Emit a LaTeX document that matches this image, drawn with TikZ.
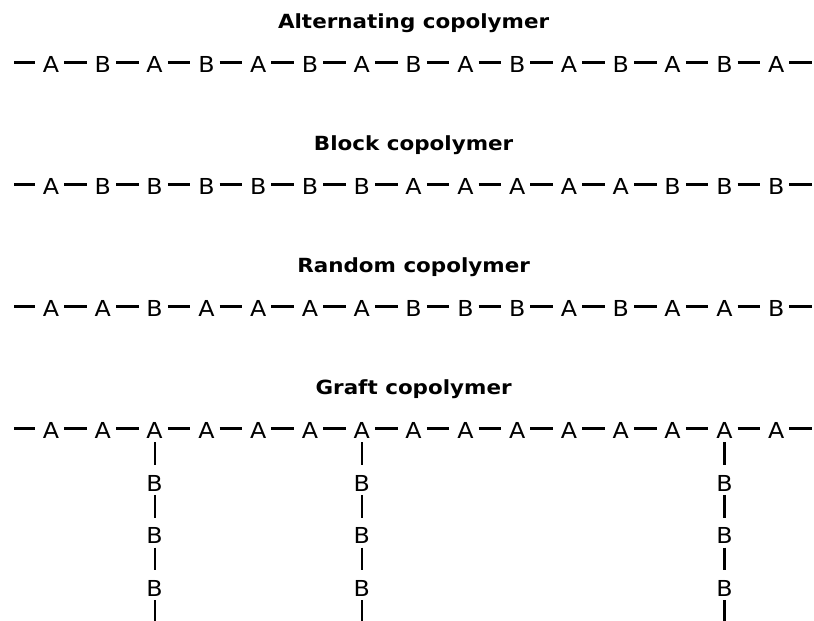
\documentclass[tikz,border=0pt]{standalone}
\usepackage{fontspec}
\setmainfont{DejaVu Sans}[FakeStretch=1.1]
\newfontfamily\unitfont{DejaVu Sans}[FakeStretch=1.08]
\begin{document}
\begin{tikzpicture}[x=1pt, y=-1pt,
  mono/.style={font=\unitfont\fontsize{22}{24}\selectfont, inner sep=0pt,
    minimum width=26pt, text height=20pt, text depth=0pt, anchor=base},
  bond/.style={line width=2.2pt, shorten >=2.8pt},
  vbond/.style={line width=2.2pt, shorten <=3.5pt, shorten >=6.2pt},
  heading/.style={font=\fontsize{19.5}{22}\selectfont\bfseries, anchor=base}]
\useasboundingbox (0,0) rectangle (814,621);

% headings
\node[heading] (t0) at (413.6, 28) {Alternating copolymer};
\node[heading] (t1) at (413.6, 150) {Block copolymer};
\node[heading] (t2) at (413.6, 272) {Random copolymer};
\node[heading] (t3) at (413.6, 394) {Graft copolymer};

% the four chains: monomers, bonds between them and the open chain ends
\foreach \seq [count=\r from 0] in {
  {A,B,A,B,A,B,A,B,A,B,A,B,A,B,A},
  {A,B,B,B,B,B,B,A,A,A,A,A,B,B,B},
  {A,A,B,A,A,A,A,B,B,B,A,B,A,A,B},
  {A,A,A,A,A,A,A,A,A,A,A,A,A,A,A}} {
  \pgfmathsetmacro{\yb}{72.5+122*\r}
  \foreach \m [count=\i from 0] in \seq {
    \node[mono] (m\r-\i) at ({51+51.8*\i}, \yb) {\m};
  }
  \coordinate (L\r) at (14, \yb-10);
  \coordinate (R\r) at (815, \yb-10);
  \draw[bond] (L\r) -- (m\r-0);
  \foreach \i in {0,...,13} {
    \pgfmathtruncatemacro{\j}{\i+1}
    \draw[bond] (m\r-\i) -- (m\r-\j);
  }
  \draw[bond] (m\r-14) -- (R\r);
}

% side chains of B hanging from the graft backbone
\foreach \i in {2,6,13} {
  \foreach \k in {1,2,3} {
    \node[mono] (g\i-\k) at ({51+51.8*\i}, {438.5+52.7*\k}) {B};
  }
  \coordinate (gend\i) at ({51+51.8*\i}, 629.3);
  \draw[vbond] (m3-\i) -- (g\i-1);
  \draw[vbond] (g\i-1) -- (g\i-2);
  \draw[vbond] (g\i-2) -- (g\i-3);
  \draw[vbond] (g\i-3) -- (gend\i);
}
\end{tikzpicture}
\end{document}
